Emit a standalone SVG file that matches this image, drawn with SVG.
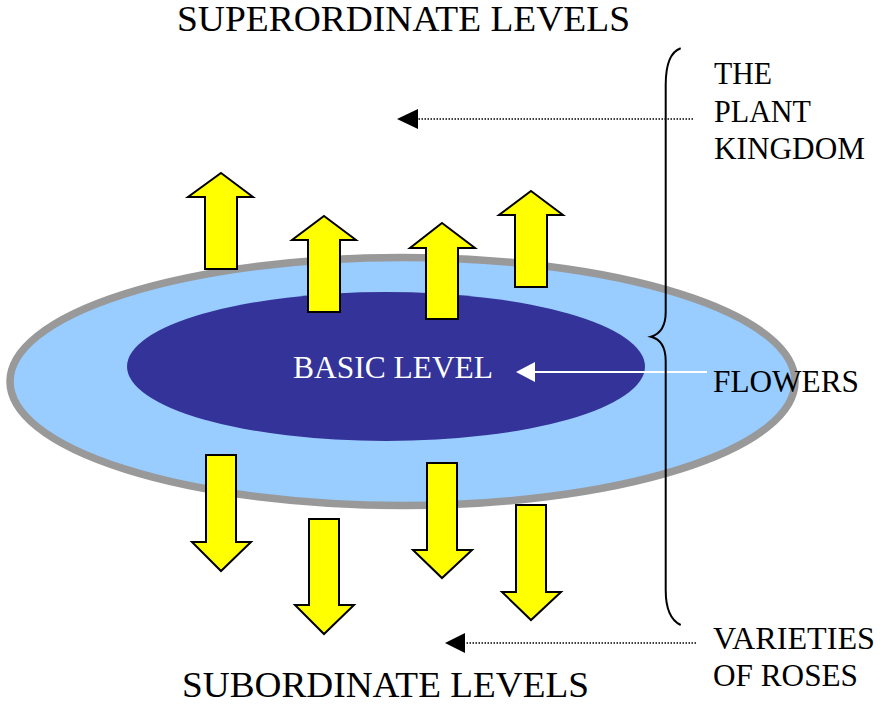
<svg xmlns="http://www.w3.org/2000/svg" width="881" height="707" viewBox="0 0 881 707">
<style>
text { font-family: "Liberation Serif", "Times New Roman", serif; }
.lbl { font-size: 31px; fill: #000; }
.big { font-size: 36px; fill: #000; }
.arrow { fill: #FFFF00; stroke: #000; stroke-width: 2; stroke-linejoin: miter; }
.dot { stroke: #000; stroke-width: 1.5; stroke-dasharray: 1.5 1.5; fill: none; }
</style>
<rect width="881" height="707" fill="#fff"/>
<g id="outer-level">
<ellipse cx="402.5" cy="381.5" rx="392.5" ry="124" fill="#99CCFF" stroke="#999999" stroke-width="7.5"/>
</g>
<g id="basic-level">
<ellipse cx="386" cy="366.5" rx="259" ry="74.5" fill="#333399"/>
<text x="293" y="378" font-size="31" fill="#fff" textLength="200" lengthAdjust="spacingAndGlyphs">BASIC LEVEL</text>
</g>
<g id="up-arrows">
<polygon class="arrow" points="221,173 253,197 237,197 237,269 205,269 205,197 188,197"/>
<polygon class="arrow" points="324,216 356,240 340,240 340,312 308,312 308,240 292,240"/>
<polygon class="arrow" points="442,223 475,248 458,248 458,319 426,319 426,248 410,248"/>
<polygon class="arrow" points="531,191 563,215 547,215 547,287 515,287 515,215 499,215"/>
</g>
<g id="down-arrows">
<polygon class="arrow" points="206,455 236,455 236,542 251,542 221,571 192,542 206,542"/>
<polygon class="arrow" points="309,519 339,519 339,605 354,605 324,634 295,605 309,605"/>
<polygon class="arrow" points="427,463 457,463 457,550 472,550 442,578 413,550 427,550"/>
<polygon class="arrow" points="516,505 546,505 546,592 561,592 531,620 502,592 516,592"/>
</g>
<g id="connectors">
<line class="dot" x1="693" y1="119" x2="417" y2="119"/>
<polygon points="397,119 418,109 418,129" fill="#000"/>
<line class="dot" x1="696" y1="643" x2="464" y2="643"/>
<polygon points="445,643 465,633 465,653" fill="#000"/>
<line x1="707" y1="372" x2="534" y2="372" stroke="#fff" stroke-width="2"/>
<polygon points="516,372 535,362 535,382" fill="#fff"/>
</g>
<g id="brace">
<path d="M680.7,48.3 C670,52 665.7,65 665.7,85 L665.7,312 C665.7,327 660,334 651,336.7 C660,339 665.7,346 665.7,361 L665.7,590 C665.7,608 670,620 680.7,625" fill="none" stroke="#000" stroke-width="2"/>
</g>
<g id="superordinate">
<text class="big" x="177" y="31" textLength="453" lengthAdjust="spacingAndGlyphs">SUPERORDINATE LEVELS</text>
</g>
<g id="subordinate">
<text class="big" x="182" y="697" font-size="35" textLength="407" lengthAdjust="spacingAndGlyphs">SUBORDINATE LEVELS</text>
</g>
<g id="plant-kingdom">
<text class="lbl" x="714" y="84" textLength="58" lengthAdjust="spacingAndGlyphs">THE</text>
<text class="lbl" x="714" y="122" textLength="97" lengthAdjust="spacingAndGlyphs">PLANT</text>
<text class="lbl" x="714" y="159" textLength="151" lengthAdjust="spacingAndGlyphs">KINGDOM</text>
</g>
<g id="flowers">
<text class="lbl" x="713" y="392" textLength="146" lengthAdjust="spacingAndGlyphs">FLOWERS</text>
</g>
<g id="varieties">
<text class="lbl" x="713" y="649" textLength="162" lengthAdjust="spacingAndGlyphs">VARIETIES</text>
<text class="lbl" x="713" y="686" textLength="145" lengthAdjust="spacingAndGlyphs">OF ROSES</text>
</g>
</svg>
